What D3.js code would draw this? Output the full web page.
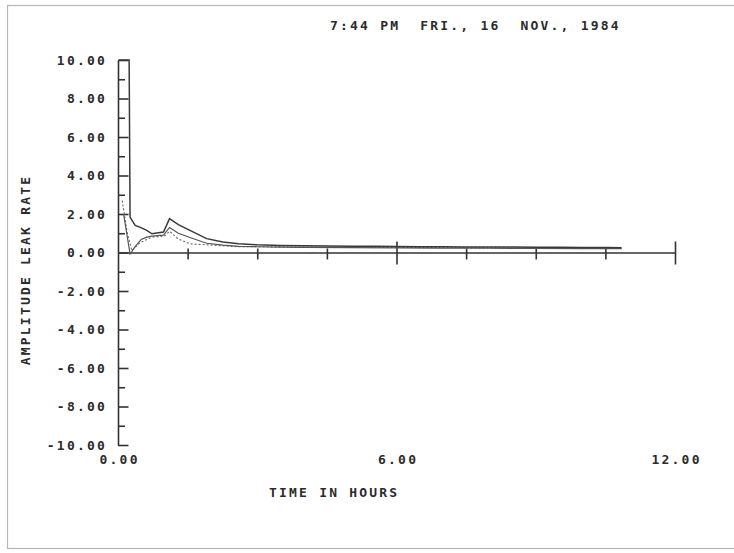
<!DOCTYPE html>
<html>
<head>
<meta charset="utf-8">
<script src="https://cdn.jsdelivr.net/npm/d3@7"></script>
<style>
	body { margin: 0; background: #fff; }
	text { font-family: "DejaVu Sans Mono", monospace; font-weight: bold; font-size: 13px; letter-spacing: 2.2px; fill: #2b2b2b; white-space: pre; }
</style>
</head>
<body>
<script>
'use strict';

{
	// readings (hours, leak rate)
	let hoursA = [0.02, 0.24, 0.26, 0.37, 0.47, 0.62, 0.73, 0.98, 1.11, 1.3, 1.55, 1.91, 2.26, 2.6, 3.0, 3.5, 4.0, 4.5, 5.0, 5.5, 6.0, 6.5, 7.0, 7.5, 8.0, 8.5, 9.0, 9.5, 10.0, 10.5, 10.85];
	let leakA  = [10.0, 10.0, 1.84, 1.41, 1.32, 1.15, 0.97, 1.06, 1.76, 1.45, 1.15, 0.72, 0.55, 0.45, 0.40, 0.37, 0.35, 0.34, 0.33, 0.32, 0.31, 0.30, 0.30, 0.29, 0.28, 0.28, 0.27, 0.27, 0.26, 0.26, 0.25];

	let hoursB = [0.12, 0.26, 0.37, 0.5, 0.62, 0.73, 0.98, 1.11, 1.3, 1.55, 1.91, 2.26, 2.6, 3.0, 3.5, 4.0, 5.0, 6.0, 7.0, 8.0, 9.0, 10.0, 10.85];
	let leakB  = [2.0, -0.08, 0.30, 0.68, 0.80, 0.85, 0.90, 1.30, 1.00, 0.78, 0.48, 0.38, 0.32, 0.30, 0.28, 0.27, 0.25, 0.24, 0.23, 0.22, 0.21, 0.20, 0.20];

	let hoursC = [0.09, 0.2, 0.3, 0.47, 0.73, 1.0, 1.11, 1.3, 1.55, 1.91, 2.26, 2.6, 3.0, 4.0, 5.0, 6.0, 7.0, 8.0, 9.0, 10.0, 10.85];
	let leakC  = [2.7, 1.0, 0.1, 0.5, 0.8, 0.85, 1.1, 0.7, 0.45, 0.40, 0.35, 0.30, 0.30, 0.28, 0.27, 0.26, 0.25, 0.24, 0.23, 0.22, 0.22];

	let yMajor = [-10, -8, -6, -4, -2, 0, 2, 4, 6, 8, 10];
	let yMinor = [-9, -7, -5, -3, -1, 1, 3, 5, 7, 9];
	let yLabels = ["-10.00", "-8.00", "-6.00", "-4.00", "-2.00", "0.00", "2.00", "4.00", "6.00", "8.00", "10.00"];
	let xMajor = [6, 12];
	let xMinor = [1.5, 3, 4.5, 7.5, 9, 10.5];
	let xLabelVals = [0, 6, 12];
	let xLabels = ["0.00", "6.00", "12.00"];

	let titleText = "7:44 PM  FRI., 16  NOV., 1984";

	let width = 734, height = 553;

	let svg = d3.select("body").append("svg")
		.attr("width", width)
		.attr("height", height);

	// faint page frame
	svg.append("rect")
		.attr("x", 7.5).attr("y", 5.5)
		.attr("width", 740).attr("height", 543)
		.attr("fill", "none")
		.attr("stroke", "#b5b5b5")
		.attr("stroke-width", 1.2);

	let x = d3.scaleLinear().domain([0, 12]).range([118, 675]);
	let y = d3.scaleLinear().domain([-10, 10]).range([445, 60]);

	let ink = "#333";

	// y axis, ticks pointing right
	svg.append("g")
		.attr("transform", `translate(${x(0)},0)`)
		.call(d3.axisRight(y).tickValues(yMajor).tickSizeInner(10.5).tickSizeOuter(0).tickFormat(""));
	svg.append("g")
		.attr("transform", `translate(${x(0)},0)`)
		.call(d3.axisRight(y).tickValues(yMinor).tickSize(7).tickFormat(""))
		.select(".domain").remove();

	// y labels
	let yLab = svg.append("g")
		.attr("transform", `translate(${x(0)},0)`)
		.call(d3.axisLeft(y).tickValues(yMajor).tickSize(0).tickPadding(11)
			.tickFormat((d, i) => yLabels[i]));
	yLab.select(".domain").remove();

	// x axis along zero
	let x0 = y(0);
	let xMinG = svg.append("g")
		.attr("transform", `translate(0,${x0})`)
		.call(d3.axisBottom(x).tickValues(xMinor).tickSizeInner(7).tickSizeOuter(0).tickFormat(""));
	xMinG.selectAll(".tick line").attr("y1", -4);

	let xMajG = svg.append("g")
		.attr("transform", `translate(0,${x0})`)
		.call(d3.axisBottom(x).tickValues(xMajor).tickSize(12).tickFormat(""));
	xMajG.select(".domain").remove();
	xMajG.selectAll(".tick line").attr("y1", -11);

	// x labels under the plot
	let xLab = svg.append("g")
		.attr("transform", `translate(0,${y(-10)})`)
		.call(d3.axisBottom(x).tickValues(xLabelVals).tickSize(0).tickPadding(10)
			.tickFormat((d, i) => xLabels[i]));
	xLab.select(".domain").remove();

	svg.selectAll(".tick text")
		.attr("fill", "#2b2b2b")
		.style("font-family", '"DejaVu Sans Mono", monospace')
		.style("font-size", "13px");
	xLab.selectAll(".tick text").attr("dx", 1.1);

	svg.selectAll(".domain, .tick line")
		.attr("stroke", ink)
		.attr("stroke-width", 1.6);

	// series
	let line = d3.line()
		.x(d => x(d[0]))
		.y(d => y(d[1]));

	let seriesA = hoursA.map((h, i) => [h, leakA[i]]);
	let seriesB = hoursB.map((h, i) => [h, leakB[i]]);
	let seriesC = hoursC.map((h, i) => [h, leakC[i]]);

	svg.append("path")
		.datum(seriesC)
		.attr("d", line)
		.attr("fill", "none")
		.attr("stroke", "#666")
		.attr("stroke-width", 1.1)
		.attr("stroke-dasharray", "2,2");

	svg.append("path")
		.datum(seriesB)
		.attr("d", line)
		.attr("fill", "none")
		.attr("stroke", "#555")
		.attr("stroke-width", 1.2);

	svg.append("path")
		.datum(seriesA)
		.attr("d", line)
		.attr("fill", "none")
		.attr("stroke", "#3a3a3a")
		.attr("stroke-width", 1.5);

	// titles
	svg.append("text")
		.attr("x", 330).attr("y", 29.5)
		.text(titleText);

	svg.append("text")
		.attr("x", 269).attr("y", 497)
		.text("TIME IN HOURS");

	svg.append("text")
		.attr("transform", "translate(30,270) rotate(-90)")
		.attr("text-anchor", "middle")
		.text("AMPLITUDE LEAK RATE");
}
</script>
</body>
</html>
